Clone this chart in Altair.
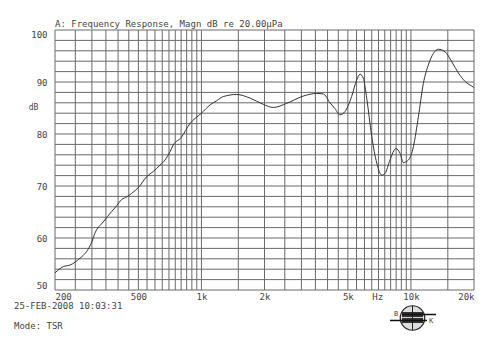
import altair as alt
import pandas as pd

# ---- data ----
freq = [200, 219, 236, 263, 283, 300, 310, 340, 373, 394, 416, 440, 465, 500, 548,
        589, 634, 670, 708, 734, 800, 881, 1000, 1100, 1183, 1271, 1473, 1706, 1974,
        2204, 2553, 3064, 3549, 3820, 4110, 4335, 4580, 4840, 5210, 5510, 5715, 5930,
        6150, 6500, 6870, 7250, 7520, 7940, 8480, 8870, 9200, 9730, 10280, 10850,
        11460, 12110, 12800, 13520, 14560, 15660, 16870, 18130, 19860, 20000]
magn_db = [53.3, 54.5, 54.8, 56.1, 57.4, 59.3, 60.9, 63.1, 65.1, 66.2, 67.4, 67.9, 68.6,
           69.7, 71.8, 72.8, 74.0, 75.0, 76.6, 77.9, 79.3, 82.0, 84.0, 85.6, 86.4, 87.2,
           87.6, 86.9, 85.7, 85.1, 85.9, 87.3, 87.8, 87.7, 86.0, 84.9, 83.7, 84.3, 87.2,
           90.4, 91.5, 90.7, 86.9, 79.5, 74.4, 72.1, 72.4, 75.0, 77.2, 76.3, 74.5, 75.0,
           77.6, 83.3, 89.7, 93.3, 95.5, 96.3, 95.8, 93.9, 91.7, 90.1, 89.0, 88.9]

grid_freqs = [200, 250, 300, 350, 400, 450, 500, 550, 600, 650, 700, 750, 800, 850, 900,
              950, 1000, 1500, 2000, 2500, 3000, 3500, 4000, 4500, 5000, 5500, 6000, 6500,
              7000, 7500, 8000, 8500, 9000, 9500, 10000, 15000, 20000]
grid_db = [50, 52, 54, 56, 58, 60, 62, 64, 66, 68, 70, 72, 74, 76, 78, 80, 82, 84, 86,
           88, 90, 92, 94, 96, 98, 100]
x_label_values = [200, 500, 1000, 2000, 5000, 6900, 10000, 20000]
x_label_texts = ["200", "500", "1k", "2k", "5k", "Hz", "10k", "20k"]
y_label_values = [50, 60, 70, 80, 90, 100]

title_text = "A: Frequency Response, Magn dB re 20.00\u00b5Pa"
date_text = "25-FEB-2008 10:03:31"
mode_text = "Mode: TSR"

# ---- styling ----
W, H = 419, 260
FONT = "DejaVu Sans Mono"
GRID = "#6a6a6a"
INK = "#333333"
TXT = "#444444"

label_expr = "".join(
    f"datum.value == {v} ? '{t}' : " for v, t in zip(x_label_values, x_label_texts)
) + "''"

xscale = alt.Scale(type="log", domain=[200, 20000], nice=False)
yscale = alt.Scale(domain=[50, 100], nice=False, zero=False)

xaxis = alt.Axis(values=x_label_values, labelExpr=label_expr, grid=False, ticks=False,
                 domain=False, labelFlush=True, labelPadding=2, title=None,
                 labelFont=FONT, labelFontSize=9, labelColor=TXT)
yaxis = alt.Axis(values=y_label_values, grid=False, ticks=False, domain=False,
                 labelFlush=True, labelFlushOffset=0, labelPadding=8,
                 labelFont=FONT, labelFontSize=9, labelColor=TXT,
                 title="dB", titleAngle=0, titleX=-22, titleY=77, titleAlign="center",
                 titleBaseline="middle", titleFont=FONT, titleFontSize=8,
                 titleFontWeight="normal", titleColor=TXT)

curve_df = pd.DataFrame({"f": freq, "db": magn_db})
vgrid_df = pd.DataFrame({"f": grid_freqs})
hgrid_df = pd.DataFrame({"db": grid_db})
one = pd.DataFrame({"k": [0]})

vgrid = alt.Chart(vgrid_df).mark_rule(color=GRID, strokeWidth=1).encode(
    x=alt.X("f:Q", scale=xscale, axis=xaxis))
hgrid = alt.Chart(hgrid_df).mark_rule(color=GRID, strokeWidth=1).encode(
    y=alt.Y("db:Q", scale=yscale, axis=yaxis))
curve = alt.Chart(curve_df).mark_line(interpolate="monotone", color=INK,
                                      strokeWidth=1).encode(
    x=alt.X("f:Q", scale=xscale, axis=xaxis),
    y=alt.Y("db:Q", scale=yscale, axis=yaxis))


def txt(s, x, y, size=9, align="left"):
    return alt.Chart(one).mark_text(align=align, baseline="alphabetic", font=FONT,
                                    fontSize=size, color=TXT).encode(
        x=alt.value(x), y=alt.value(y), text=alt.value(s))


def hrule(x1, x2, y, color="#111111", w=1.5):
    return alt.Chart(one).mark_rule(color=color, strokeWidth=w).encode(
        x=alt.value(x1), x2=alt.value(x2), y=alt.value(y))


title = txt(title_text, 0, -3)
date = txt(date_text, -41, 278.5)
mode = txt(mode_text, -41, 298.5)

# small maker's logo under the axis
globe = alt.Chart(one).mark_point(shape="circle", filled=True, color="#dddddd",
                                  stroke="#222222", strokeWidth=1.2, opacity=1).encode(
    x=alt.value(357.5), y=alt.value(288), size=alt.value(600))
band = alt.Chart(one).mark_rect(color="#333333").encode(
    x=alt.value(347), x2=alt.value(368), y=alt.value(282), y2=alt.value(293))
stripes = [hrule(347, 368, yy, color="#ffffff", w=0.8) for yy in (284.5, 287.5, 290.5)]
meridian = alt.Chart(one).mark_rule(color="#222222", strokeWidth=1).encode(
    x=alt.value(357.5), y=alt.value(276), y2=alt.value(300))
bar1 = hrule(335, 372, 290.5)
bar2 = hrule(347, 381, 284.5)
logo_b = txt("B", 339, 286, size=7)
logo_k = txt("K", 374, 293, size=7)

chart = alt.layer(vgrid, hgrid, curve, title, date, mode, globe, band, *stripes,
                  meridian, bar1, bar2, logo_b, logo_k).properties(
    width=W, height=H,
    autosize=alt.AutoSizeParams(type="none"),
    padding={"left": 55, "top": 30, "right": 26, "bottom": 59},
    background="white",
).configure_view(stroke=None)

chart.save("out.html", embed_options={"renderer": "svg", "actions": False})
